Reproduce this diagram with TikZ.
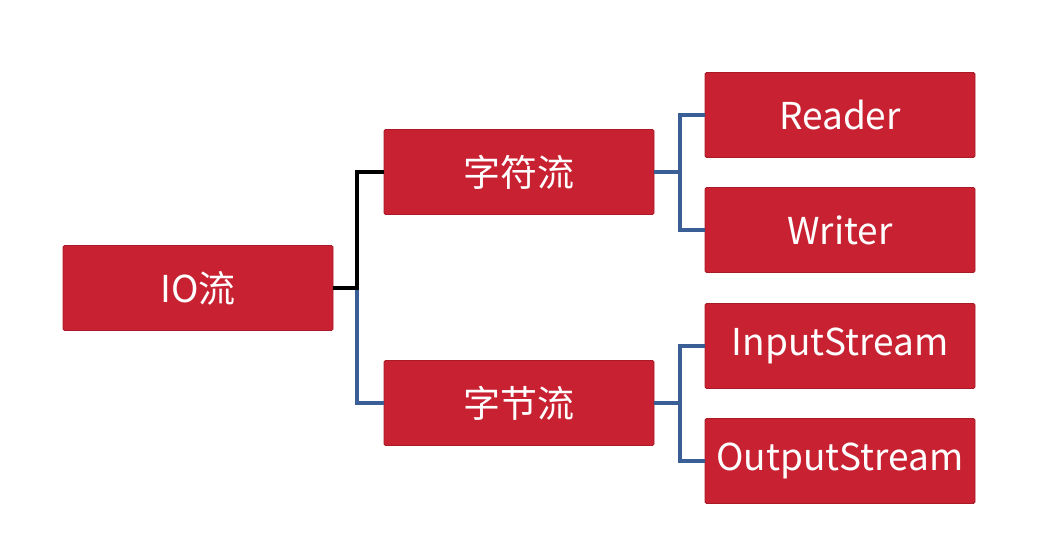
\documentclass[tikz,border=0pt]{standalone}
\usepackage{fontspec}
\setmainfont{Noto Sans CJK SC}
\definecolor{boxred}{RGB}{200,34,50}
\definecolor{boxedge}{RGB}{170,25,38}
\definecolor{linkblue}{RGB}{58,94,150}
\begin{document}
\begin{tikzpicture}[x=1pt,y=-1pt,
  box/.style={draw=boxedge,line width=0.8pt,fill=boxred,rounded corners=1.5pt,minimum width=270pt,minimum height=85pt,inner sep=0pt,text=white,font=\fontsize{37}{44}\selectfont},
  blk/.style={draw=black,line width=4pt},
  blu/.style={draw=linkblue,line width=4pt}]
\useasboundingbox (0,0) rectangle (1058,557);
\node[box] (io) at (198,288) {IO流};
\node[box] (zf) at (519,172) {字符流};
\node[box] (zj) at (519,403) {字节流};
\node[box] (rd) at (840,115) {Reader};
\node[box] (wr) at (840,230) {Writer};
\node[box] (is) at (840,346) {InputStream};
\node[box] (os) at (840,461) {OutputStream};
\coordinate (j1) at (357,288);
\coordinate (j2) at (680,172);
\coordinate (j3) at (680,403);
\draw[blu] (j1) |- (zj.west);
\draw[blk] (io.east) -- (j1) |- (zf.west);
\draw[blu] (zf.east) -- (j2);
\draw[blu] (j2) |- (rd.west);
\draw[blu] (j2) |- (wr.west);
\draw[blu] (zj.east) -- (j3);
\draw[blu] (j3) |- (is.west);
\draw[blu] (j3) |- (os.west);
\end{tikzpicture}
\end{document}
